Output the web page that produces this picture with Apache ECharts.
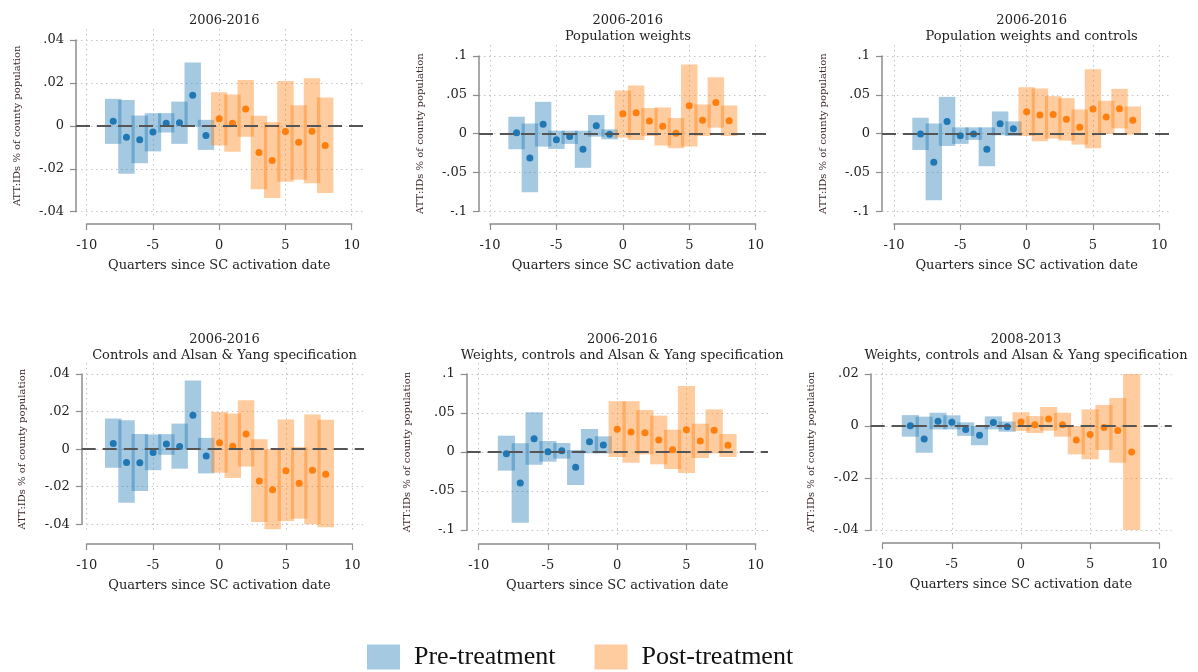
<!DOCTYPE html>
<html>
<head>
<meta charset="utf-8">
<script src="https://cdn.jsdelivr.net/npm/echarts@6/dist/echarts.min.js"></script>
<style>html,body{margin:0;padding:0;background:#fff;}#c{width:1198px;height:672px;}</style>
</head>
<body>
<div id="c"></div>
<script>
// ---------- DATA ----------
const quarters = [-8,-7,-6,-5,-4,-3,-2,-1,0,1,2,3,4,5,6,7,8];
const xTitle = 'Quarters since SC activation date';
const yTitle = 'ATT:IDs % of county population';
const legendNames = ['Pre-treatment', 'Post-treatment'];

const p1Title = ['2006-2016'];
const p1Est = [0.0022,-0.0053,-0.0065,-0.0029,0.0012,0.0014,0.0143,-0.0045,0.0033,0.0012,0.0079,-0.0124,-0.0161,-0.0026,-0.0076,-0.0025,-0.0091];
const p1Lo  = [-0.0084,-0.0223,-0.0174,-0.0119,-0.0031,-0.0084,-0.0003,-0.0112,-0.0091,-0.0121,-0.0051,-0.0295,-0.0336,-0.026,-0.0251,-0.0267,-0.0313];
const p1Hi  = [0.0126,0.0121,0.0048,0.0059,0.0059,0.0113,0.0295,0.0028,0.0157,0.0146,0.0214,0.0047,0.0017,0.0209,0.0096,0.0222,0.0132];

const p2Title = ['2006-2016', 'Population weights'];
const p2Est = [0.001,-0.0312,0.012,-0.0077,-0.0038,-0.0201,0.0103,-0.0009,0.0256,0.0269,0.0162,0.0094,0.0004,0.0359,0.0171,0.0402,0.0167];
const p2Lo  = [-0.0201,-0.0756,-0.0167,-0.0197,-0.0132,-0.044,-0.0038,-0.0073,-0.0051,-0.0081,-0.003,-0.0154,-0.0188,-0.0167,-0.003,0.0077,-0.003];
const p2Hi  = [0.0218,0.0132,0.041,0.0038,0.0038,0.0038,0.0239,0.0056,0.0556,0.062,0.0329,0.0338,0.0201,0.0889,0.0376,0.0726,0.0363];

const p3Title = ['2006-2016', 'Population weights and controls'];
const p3Est = [-0.0004,-0.0368,0.0158,-0.0026,-0.0004,-0.0201,0.0128,0.0064,0.0282,0.0239,0.0248,0.0184,0.0081,0.0316,0.0214,0.032,0.0171];
const p3Lo  = [-0.021,-0.0859,-0.0158,-0.0132,-0.0081,-0.0419,-0.0021,-0.003,-0.003,-0.0098,-0.0064,-0.009,-0.0141,-0.0188,-0.0004,0.0068,-0.0013];
const p3Hi  = [0.0205,0.0132,0.0474,0.0081,0.0081,0.0081,0.0286,0.0158,0.0598,0.0581,0.0483,0.0457,0.0312,0.0829,0.0423,0.0577,0.035];

const p4Title = ['2006-2016', 'Controls and Alsan & Yang specification'];
const p4Est = [0.003,-0.0071,-0.0073,-0.0018,0.0027,0.0014,0.0181,-0.0037,0.0034,0.0016,0.0081,-0.017,-0.0216,-0.0115,-0.0181,-0.0112,-0.0133];
const p4Lo  = [-0.0099,-0.0285,-0.0223,-0.0112,-0.003,-0.0104,0.0,-0.0129,-0.0126,-0.0154,-0.0092,-0.0388,-0.0427,-0.0382,-0.037,-0.04,-0.0416];
const p4Hi  = [0.0163,0.0154,0.008,0.0078,0.008,0.0136,0.0365,0.006,0.0198,0.019,0.026,0.0053,0.0,0.0158,0.0012,0.0184,0.0156];

const p5Title = ['2006-2016', 'Weights, controls and Alsan & Yang specification'];
const p5Est = [-0.0021,-0.0397,0.0171,0.0004,0.0017,-0.0197,0.0132,0.009,0.0291,0.0256,0.0248,0.0154,0.003,0.0286,0.0141,0.0278,0.0085];
const p5Lo  = [-0.0239,-0.0906,-0.0162,-0.0124,-0.0085,-0.0423,-0.0017,-0.0017,-0.0064,-0.0137,-0.003,-0.0158,-0.0218,-0.0269,-0.0077,-0.0017,-0.0064];
const p5Hi  = [0.0209,0.0111,0.0509,0.0141,0.0115,0.0026,0.0295,0.0201,0.065,0.065,0.0538,0.0466,0.0286,0.0846,0.0363,0.0547,0.0231];

const p6Title = ['2008-2013', 'Weights, controls and Alsan & Yang specification'];
const p6Est = [0.0001,-0.005,0.0018,0.0014,-0.0013,-0.0036,0.0013,-0.0003,0.0015,0.0005,0.0027,0.0005,-0.0054,-0.0033,-0.0006,-0.0017,-0.01];
const p6Lo  = [-0.0041,-0.0103,-0.0013,-0.0013,-0.0038,-0.0074,-0.0013,-0.0022,-0.0019,-0.0027,-0.0018,-0.0041,-0.0109,-0.0128,-0.0092,-0.0141,-0.04];
const p6Hi  = [0.0042,0.0036,0.0051,0.0041,0.0014,0.0,0.0037,0.0017,0.0053,0.0038,0.0073,0.0051,0.0,0.0064,0.0081,0.0108,0.02];

// y-axis tick ranges per panel
const yRanges = [
  [-0.04, 0.04, 0.02],
  [-0.1, 0.1, 0.05],
  [-0.1, 0.1, 0.05],
  [-0.04, 0.04, 0.02],
  [-0.1, 0.1, 0.05],
  [-0.04, 0.02, 0.02]
];

// ---------- LAYOUT / STYLE ----------
const FONT = "'DejaVu Serif', serif";
const BAND_HALF = 0.62;
const BLUE = '#1f77b4', ORANGE = '#ff7f0e';
const BLUE_BAND = 'rgba(31,119,180,0.4)', ORANGE_BAND = 'rgba(255,127,14,0.4)';
const AXIS_COLOR = '#8c8c8c';
const GRID_COLOR = '#c4c4c4';
const TEXT_COLOR = '#222';

// pixel boxes: xm/xp = pixel of x=-10/10; yt/yb = pixel of top/bottom y tick; ax = y-axis line x; ay = x-axis line y; pr = plot right; tt = title top
const boxes = [
  {xm:86.7, xp:351.7, yt:40,  yb:211.7, ax:76,    ay:224, pr:364,    tt:8},
  {xm:490,  xp:755.7, yt:56,  yb:211.3, ax:479,   ay:224, pr:768,    tt:8},
  {xm:894,  xp:1159.3,yt:56,  yb:211.3, ax:882,   ay:224, pr:1171.7, tt:8},
  {xm:86.7, xp:352.3, yt:374, yb:524.3, ax:81.7,  ay:544, pr:364,    tt:327},
  {xm:478.7,xp:755.7, yt:374, yb:530,   ax:466.7, ay:544, pr:768,    tt:327},
  {xm:882.7,xp:1159.3,yt:374, yb:530,   ax:870.7, ay:543, pr:1171.7, tt:327}
];

const panels = [
  {title:p1Title, est:p1Est, lo:p1Lo, hi:p1Hi},
  {title:p2Title, est:p2Est, lo:p2Lo, hi:p2Hi},
  {title:p3Title, est:p3Est, lo:p3Lo, hi:p3Hi},
  {title:p4Title, est:p4Est, lo:p4Lo, hi:p4Hi},
  {title:p5Title, est:p5Est, lo:p5Lo, hi:p5Hi},
  {title:p6Title, est:p6Est, lo:p6Lo, hi:p6Hi}
];

function fmtY(v) {
  const s = String(+v.toFixed(4));
  return s.replace(/^(-?)0\./, '$1.');
}

function bandRender(params, api) {
  const x = api.value(0), lo = api.value(1), hi = api.value(2);
  const a = api.coord([x - BAND_HALF, hi]);
  const b = api.coord([x + BAND_HALF, lo]);
  return {
    type: 'rect',
    shape: {x: a[0], y: a[1], width: b[0] - a[0], height: b[1] - a[1]},
    style: {fill: api.visual('color')}
  };
}

const grid = [], xAxis = [], yAxis = [], series = [], title = [];
const dotted = {color: GRID_COLOR, width: 1, type: [1.5, 3.5]};

panels.forEach((p, i) => {
  const b = boxes[i];
  const [yMin, yMax, yStep] = yRanges[i];
  const plotLeft = b.ax, plotRight = b.pr, plotTop = b.yt - 11, plotBottom = b.yb + 7;
  const pxX = (b.xp - b.xm) / 20;
  const pxY = (b.yb - b.yt) / (yMax - yMin);
  const xMinP = -10 + (plotLeft - b.xm) / pxX;
  const xMaxP = 10 + (plotRight - b.xp) / pxX;
  const yMaxP = yMax + (b.yt - plotTop) / pxY;
  const yMinP = yMin - (plotBottom - b.yb) / pxY;

  const gp = grid.length;
  grid.push({left: plotLeft, top: plotTop, width: plotRight - plotLeft, height: plotBottom - plotTop, outerBoundsMode: 'none', containLabel: false});
  xAxis.push({gridIndex: gp, type: 'value', min: xMinP, max: xMaxP, show: false});
  yAxis.push({gridIndex: gp, type: 'value', min: yMinP, max: yMaxP, show: false});

  const gx = grid.length;
  grid.push({left: b.xm, top: plotTop, width: b.xp - b.xm, height: plotBottom - plotTop, outerBoundsMode: 'none', containLabel: false});
  xAxis.push({
    gridIndex: gx, type: 'value', min: -10, max: 10, interval: 5, position: 'bottom',
    offset: b.ay - plotBottom,
    axisLine: {show: true, onZero: false, lineStyle: {color: AXIS_COLOR, width: 1.5}},
    axisTick: {show: true, length: 6, lineStyle: {color: AXIS_COLOR, width: 1.2}},
    axisLabel: {margin: 15, fontFamily: FONT, fontSize: 13, color: TEXT_COLOR},
    splitLine: {show: true, lineStyle: dotted},
    name: xTitle, nameLocation: 'middle', nameGap: 35,
    nameTextStyle: {fontFamily: FONT, fontSize: 13, color: TEXT_COLOR}
  });
  yAxis.push({gridIndex: gx, type: 'value', min: 0, max: 1, show: false});

  const gy = grid.length;
  grid.push({left: plotLeft, top: b.yt, width: plotRight - plotLeft, height: b.yb - b.yt, outerBoundsMode: 'none', containLabel: false});
  xAxis.push({gridIndex: gy, type: 'value', min: 0, max: 1, show: false});
  yAxis.push({
    gridIndex: gy, type: 'value', min: yMin, max: yMax, interval: yStep, position: 'left',
    axisLine: {show: true, onZero: false, lineStyle: {color: AXIS_COLOR, width: 1.5}},
    axisTick: {show: true, length: 6, lineStyle: {color: AXIS_COLOR, width: 1.2}},
    axisLabel: {margin: 12, fontFamily: FONT, fontSize: 13, color: TEXT_COLOR, formatter: fmtY},
    splitLine: {show: true, lineStyle: dotted},
    name: yTitle, nameLocation: 'middle', nameGap: 54,
    nameTextStyle: {fontFamily: FONT, fontSize: 10, color: '#3a2626'}
  });

  title.push({
    text: p.title.join('\n'), left: (b.xm + b.xp) / 2, top: b.tt, textAlign: 'center',
    textStyle: {fontFamily: FONT, fontSize: 13, fontWeight: 'normal', color: TEXT_COLOR, lineHeight: 16}
  });

  const pre = [], post = [], preDot = [], postDot = [];
  quarters.forEach((q, k) => {
    const band = [q, p.lo[k], p.hi[k]];
    const dot = [q, p.est[k]];
    if (q < 0) { pre.push(band); preDot.push(dot); } else { post.push(band); postDot.push(dot); }
  });

  series.push({
    name: legendNames[0], type: 'custom', xAxisIndex: gp, yAxisIndex: gp, z: 2,
    itemStyle: {color: BLUE_BAND}, renderItem: bandRender, data: pre,
    encode: {x: 0, y: [1, 2]}, silent: true
  });
  series.push({
    name: legendNames[1], type: 'custom', xAxisIndex: gp, yAxisIndex: gp, z: 2,
    itemStyle: {color: ORANGE_BAND}, renderItem: bandRender, data: post,
    encode: {x: 0, y: [1, 2]}, silent: true
  });
  series.push({
    name: 'zero', type: 'line', xAxisIndex: gp, yAxisIndex: gp, z: 3, data: [],
    markLine: {
      silent: true, symbol: ['none', 'none'], label: {show: false},
      lineStyle: {color: '#555', width: 2, type: [14, 7]},
      data: [{yAxis: 0}]
    }
  });
  series.push({
    name: 'Pre-treatment estimate', type: 'scatter', xAxisIndex: gp, yAxisIndex: gp, z: 4,
    symbolSize: 7, itemStyle: {color: BLUE, opacity: 1}, data: preDot, silent: true
  });
  series.push({
    name: 'Post-treatment estimate', type: 'scatter', xAxisIndex: gp, yAxisIndex: gp, z: 4,
    symbolSize: 7, itemStyle: {color: ORANGE, opacity: 1}, data: postDot, silent: true
  });
});

const chart = echarts.init(document.getElementById('c'), null, {renderer: 'canvas'});
chart.setOption({
  animation: false,
  backgroundColor: '#fff',
  title: title,
  legend: {
    data: legendNames, left: 367, top: 644, icon: 'rect', padding: 0,
    itemWidth: 33, itemHeight: 25, itemGap: 39,
    textStyle: {fontFamily: "'Liberation Serif', serif", fontSize: 26, color: '#111', padding: [0, 0, 0, 9]}
  },
  grid: grid, xAxis: xAxis, yAxis: yAxis, series: series
});
</script>
</body>
</html>
